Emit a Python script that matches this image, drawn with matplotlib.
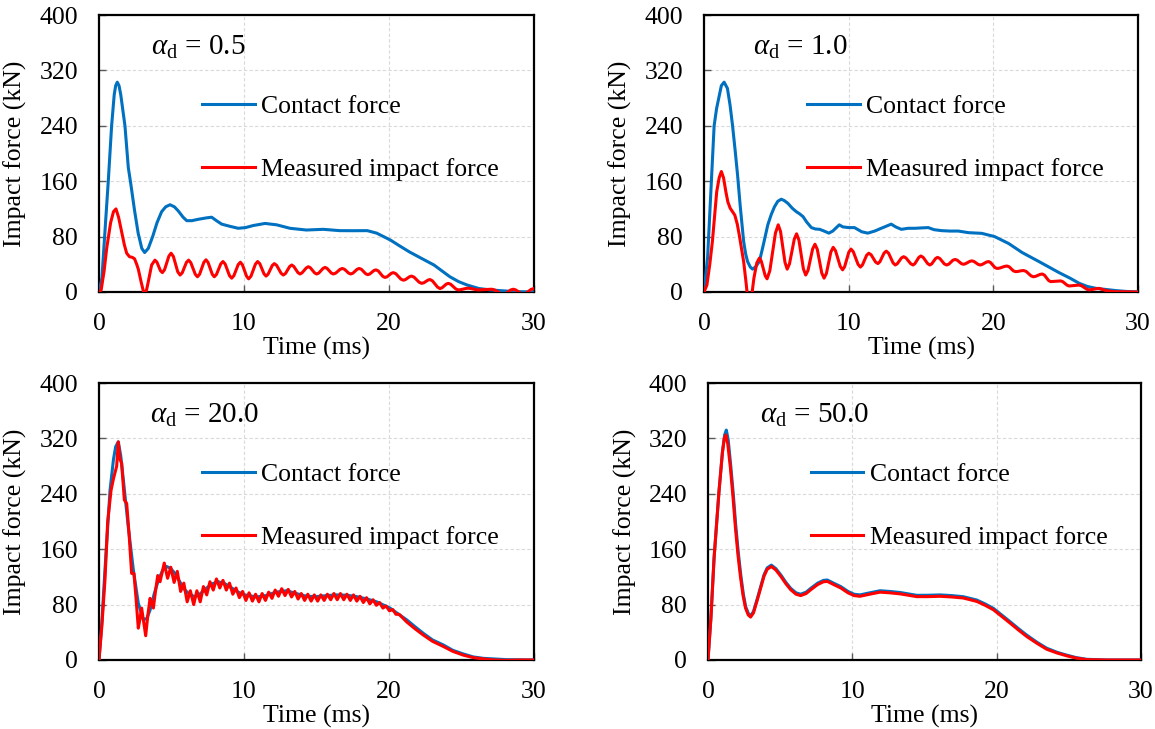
import matplotlib
matplotlib.use("Agg")
import matplotlib.pyplot as plt
from matplotlib.lines import Line2D

plt.rcParams['font.family'] = ['Liberation Serif', 'DejaVu Serif']
plt.rcParams['mathtext.fontset'] = 'custom'
plt.rcParams['mathtext.rm'] = 'Liberation Serif'
plt.rcParams['mathtext.it'] = 'Liberation Serif:italic'

# ---------------- data ----------------
x_ticks = [0, 10, 20, 30]
y_ticks = [0, 80, 160, 240, 320, 400]
series_labels = ["Contact force", "Measured impact force"]
panel_labels = ["0.5", "1.0", "20.0", "50.0"]

# Panel 1 (alpha_d = 0.5)
p1_contact_t = [0, 0.2, 0.45, 0.64, 0.87, 1.05, 1.15, 1.26, 1.38, 1.5, 1.79, 2.02, 2.2, 2.45, 2.7, 2.95,
                3.15, 3.4, 3.7, 4.0, 4.32, 4.6, 4.9, 5.2, 5.47, 5.8, 6.05, 6.4, 6.85, 7.4, 7.77, 8.1,
                8.46, 9.0, 9.6, 10.1, 10.64, 11.45, 12.25, 13.17, 14.3, 15.47, 16.6, 17.5, 18.5, 19.15,
                20.1, 20.7, 21.4, 22.2, 23.1, 24.2, 24.8, 25.4, 26.2, 27.0, 28.0, 28.8, 30]
p1_contact = [0, 20, 100, 160, 240, 285, 298, 303, 298, 285, 240, 180, 155, 118, 85, 63,
              57, 63, 80, 100, 116, 123, 126, 123, 117, 108, 103, 103, 105, 107, 108, 103,
              98, 95, 92, 93, 96, 99, 97, 92, 89.5, 90.5, 88.6, 88.5, 88.6, 85,
              75, 67, 58, 49, 39, 22, 15, 10, 5, 3, 1.5, 0.5, 0]
p1_measured_t = [0, 0.15, 0.35, 0.53, 0.8, 1.0, 1.17, 1.35, 1.56, 1.75, 1.91, 2.1, 2.3, 2.45, 2.6, 2.71,
                 2.9, 3.05, 3.15, 3.28, 3.4, 3.63, 3.86,
                 3.99, 4.24, 4.37, 4.52, 4.82, 4.97, 5.13, 5.43, 5.59, 5.74, 6.03, 6.18, 6.33, 6.64,
                 6.79, 6.94, 7.23, 7.38, 7.52, 7.81, 7.95, 8.1, 8.4, 8.55, 8.7, 9.0, 9.15, 9.3, 9.6,
                 9.75, 9.89, 10.18, 10.32, 10.48, 10.79, 10.94, 11.09, 11.38, 11.52, 11.66, 11.95,
                 12.09, 12.25, 12.56, 12.71, 12.86, 13.15, 13.29, 13.43, 13.72, 13.86, 14.0, 14.3,
                 14.44, 14.58, 14.87, 15.01, 15.16, 15.45, 15.59, 15.73, 16.02, 16.16, 16.32, 16.63,
                 16.78, 16.93, 17.22, 17.36, 17.51, 17.8, 17.95, 18.1, 18.39, 18.53, 18.67, 18.96,
                 19.1, 19.26, 19.57, 19.72, 19.87, 20.16, 20.3, 20.47, 20.82, 20.99, 21.13, 21.42,
                 21.56, 21.73, 22.08, 22.25, 22.4, 22.69, 22.83, 23.0, 23.35, 23.52, 23.66, 23.95,
                 24.09, 24.26, 24.61, 24.78, 24.95, 25.3, 25.47, 25.64, 25.99, 26.16, 27.08, 27.28,
                 27.69, 27.89, 28.06, 28.4, 28.57, 28.74, 29.09, 29.26, 29.45, 29.8, 30]
p1_measured = [0, 3, 30, 63, 100, 116, 120, 108, 87, 68, 56, 51, 50, 48, 40, 33,
               15, 2, -2, 3, 15, 39, 46,
               43.3, 30.7, 28, 32.2, 51.8, 56, 51.3, 29.2, 24.5, 27.7, 42.8, 46, 42.4, 25.6,
               22, 25.7, 42.8, 46.5, 42.8, 25.7, 22, 25.3, 40.7, 44, 40.4, 23.6, 20, 23.5, 39.6,
               43, 39.4, 22.6, 19, 22.8, 40.3, 44, 40.9, 26.2, 23, 25.7, 38.3,
               41, 38.5, 27, 24.5, 26.7, 36.8, 39, 37, 28, 26, 27.6, 34.9,
               36.5, 34.9, 27.6, 26, 27.4, 34.1, 35.5, 34.1, 27.4, 26, 27.2, 32.8,
               34, 32.8, 27.2, 26, 27.2, 32.8, 34, 32.7, 26.4, 25, 26, 31,
               32, 30.4, 22.6, 21, 22, 27, 28, 26.4, 18.6, 17, 17.9, 22.1,
               23, 21.4, 14.1, 12.5, 13.3, 17.2, 18, 16, 7, 5, 6.1, 11.4,
               12.5, 11.1, 4.4, 3, 3.4, 5.1, 5.5, 5.1, 3.4, 3, 4, 3,
               -2, -3, -2, 3, 4, 3, -2, -3, -1.8, 3.8, 5]

# Panel 2 (alpha_d = 1.0)
p2_contact_t = [0, 0.25, 0.51, 0.7, 0.87, 1.04, 1.2, 1.39, 1.62, 1.8, 1.97, 2.15, 2.32, 2.5, 2.74, 2.88,
                3.01, 3.2, 3.36, 3.55, 3.83, 4.1, 4.41, 4.65, 4.87, 5.1, 5.34, 5.55, 5.8, 6.1, 6.38,
                6.6, 6.84, 7.1, 7.42, 7.7, 8.0, 8.3, 8.63, 8.9, 9.35, 9.6, 10.0, 10.4, 10.9, 11.32,
                11.8, 12.25, 12.6, 12.94, 13.25, 13.64, 14.1, 14.57, 15.0, 15.5, 15.9, 16.42, 17.0,
                17.58, 18.28, 19.2, 20.09, 21.06, 21.99, 23.15, 24.54, 25.3, 25.94, 26.5, 27.09,
                28.48, 29.2, 30]
p2_contact = [0, 50, 160, 240, 265, 282, 298, 303, 294, 270, 241, 205, 169, 125, 73, 55,
              44, 36, 33, 36, 44, 68, 97, 112, 123, 131, 134, 132, 128, 121, 116,
              113, 109, 101, 93, 91, 90.5, 88, 85, 88, 97, 94, 93, 93, 87, 85,
              88, 92, 95, 98, 94, 90.5, 92, 92, 92.5, 93, 90, 88.6, 88,
              88, 85.7, 84.7, 80, 70, 57, 44, 28, 20, 12.5, 8, 5.3,
              2, 0.8, 0]
p2_measured_t = [0, 0.2, 0.4, 0.58, 0.88, 1.05, 1.2, 1.35, 1.51, 1.65, 1.81, 2.0, 2.13, 2.3, 2.44, 2.6,
                 2.74, 2.9, 3.0, 3.15, 3.3, 3.45, 3.65, 3.83,
                 3.96, 4.23, 4.36, 4.55, 4.94, 5.13, 5.29, 5.6, 5.75, 5.91, 6.24, 6.4, 6.56, 6.87,
                 7.03, 7.19, 7.51, 7.67, 7.83, 8.14, 8.3, 8.46, 8.77, 8.93, 9.09, 9.42, 9.58, 9.72,
                 10.01, 10.16, 10.32, 10.65, 10.81, 10.95, 11.24, 11.39, 11.55, 11.86, 12.02, 12.16,
                 12.45, 12.6, 12.76, 13.07, 13.22, 13.36, 13.65, 13.8, 13.96, 14.29, 14.45, 14.58,
                 14.85, 14.99, 15.15, 15.46, 15.61, 15.74, 16.01, 16.14, 16.3, 16.61, 16.77, 16.92,
                 17.2, 17.35, 17.5, 17.79, 17.93, 18.07, 18.37, 18.51, 18.66, 18.95, 19.09, 19.23,
                 19.52, 19.67, 19.81, 20.1, 20.25, 20.43, 20.78, 20.95, 21.1, 21.38, 21.53, 21.67,
                 21.96, 22.1, 22.27, 22.6, 22.76, 22.92, 23.23, 23.38, 23.53, 23.82, 23.96, 24.66,
                 24.8, 25.1, 25.24, 25.93, 26.1, 26.46, 26.63, 27.3, 27.8, 28.3, 29.0, 30]
p2_measured = [0, 10, 40, 73, 145, 165, 174, 165, 145, 130, 121, 115, 111, 98, 82, 62,
               44, 15, -5, -12, -5, 20, 42, 49,
               44.5, 23.5, 19, 30.7, 85.3, 97, 87.4, 42.6, 33, 40.7, 76.3, 84, 75.1, 33.4,
               24.5, 31.2, 62.3, 69, 61.7, 27.4, 20, 26.7, 57.8, 64.5, 59.6, 36.9, 32, 36.5,
               57.5, 62, 58.1, 39.9, 36, 39, 53, 56, 53.8, 43.3, 41, 43.7,
               56.3, 59, 56, 42, 39, 40.8, 49.2, 51, 49.2, 40.8, 39, 41,
               50, 52, 50, 41, 39, 40.6, 48.4, 50, 48.4, 40.6, 39, 40.2,
               45.8, 47, 46, 41, 40, 40.8, 44.2, 45, 44.1, 39.9, 39, 39.8,
               43.2, 44, 42.5, 35.5, 34, 34.5, 37, 37.5, 36.3, 30.6, 29.4, 29.6,
               30.8, 31, 29.7, 23.4, 22, 22.6, 25.4, 26, 24.4, 16.6, 15, 16,
               14.9, 9.8, 8.7, 10, 9, 4, 3, 5.3, 2, 0.5, 0.3, 0]

# Panel 3 (alpha_d = 20.0)
p3_contact_t = [0, 0.2, 0.41, 0.76, 1.0, 1.15, 1.33, 1.5, 1.68, 2.02, 2.37, 2.71, 3.06, 3.3, 3.52, 3.8,
                4.09, 4.4, 4.67, 4.95, 5.24, 5.6, 5.93, 6.3, 6.62, 7.0, 7.43, 7.8, 8.23, 8.7, 9.15,
                9.6, 10.07, 10.87, 11.5, 12.2, 12.94, 13.6, 14.32, 15.0, 15.7, 16.39, 17.1, 17.77,
                18.5, 19.15, 20.07, 20.6, 21.22, 21.8, 22.37, 23.0, 23.75, 24.4, 25.13, 25.8, 26.51,
                28.1, 30]
p3_contact = [0, 55, 130, 245, 290, 308, 315, 295, 260, 192, 130, 82, 58, 60, 72, 95,
              115, 130, 135, 132, 125, 112, 101, 94, 91.5, 96, 104, 110, 113, 110, 104,
              98, 94, 91, 93, 98, 100, 96, 92, 91.5, 93, 94, 93.5, 91.5,
              88, 84, 75, 67, 58, 48, 38.5, 29, 21.7, 14, 8.7, 4.5, 2.4,
              0.5, 0]
p3_measured_t = [0, 0.2, 0.41, 0.6, 0.83, 1.0, 1.22, 1.33, 1.45, 1.56, 1.75, 1.91, 2.08, 2.25, 2.41,
                 2.55, 2.71, 2.83, 2.94, 3.08, 3.22, 3.37, 3.52, 3.64, 3.75, 3.9, 4.05, 4.21, 4.35,
                 4.5, 4.73, 4.95, 5.18, 5.4, 5.63, 5.85, 6.08, 6.3, 6.53, 6.75, 6.98, 7.2, 7.43,
                 7.65, 7.88, 8.1, 8.33, 8.55, 8.78, 9.0, 9.23, 9.45, 9.68, 9.9, 10.13, 10.35, 10.58,
                 10.8, 11.03, 11.25, 11.48, 11.7, 11.93, 12.15, 12.38, 12.6, 12.83, 13.05, 13.28,
                 13.5, 13.73, 13.95, 14.18, 14.4, 14.63, 14.85, 15.08, 15.3, 15.53, 15.75, 15.98,
                 16.2, 16.43, 16.65, 16.88, 17.1, 17.33, 17.55, 17.78, 18.0, 18.23, 18.45, 18.68,
                 18.9, 19.13, 19.35, 19.58, 19.8, 20.03, 20.25, 20.48, 20.7, 21.22, 21.8, 22.37,
                 23.0, 23.75, 24.4, 25.13, 25.8, 26.51, 27.3, 28.1, 29.0, 30]
p3_measured = [0, 50, 115, 200, 245, 262, 280, 315, 290, 284, 231, 226, 180, 125, 125,
               90, 46, 60, 75, 55, 35, 65, 89, 82, 75, 100, 122, 113, 126,
               140, 118, 134, 112, 128, 99, 111, 84, 100, 80, 100, 84, 106, 94,
               113, 101, 117, 104, 115, 101, 111, 95, 104, 90, 99, 86, 97, 85,
               95, 84, 96, 86, 98, 89, 101, 92, 103, 93, 102, 91,
               99, 88, 96, 86, 95, 85, 94, 85, 94, 86, 95, 87,
               96, 87, 96, 87, 95, 86, 94, 85, 92, 83, 90, 81,
               87, 79, 83, 75, 78, 71, 73, 66, 66, 55, 45, 36,
               27, 19.5, 12.5, 7, 3.5, 1.5, 0, -0.5, 0, 0]

# Panel 4 (alpha_d = 50.0)
p4_contact_t = [0, 0.2, 0.42, 0.76, 1.0, 1.15, 1.27, 1.4, 1.57, 1.75, 1.92, 2.1, 2.27, 2.45, 2.61, 2.8,
                2.96, 3.15, 3.42, 3.65, 3.88, 4.1, 4.39, 4.7, 5.04, 5.4, 5.73, 6.1, 6.42, 6.8, 7.12,
                7.6, 8.0, 8.27, 8.7, 9.2, 9.7, 10.12, 10.53, 11.2, 11.92, 12.6, 13.31, 14.46, 15.2,
                16.08, 16.9, 17.69, 18.62, 19.2, 19.77, 20.35, 20.93, 21.5, 22.08, 22.8, 23.47, 24.2,
                24.86, 25.5, 26.24, 27.63, 30]
p4_contact = [0, 60, 147, 243, 300, 325, 332, 318, 282, 240, 195, 155, 123, 95, 77, 67,
              64, 70, 89, 106, 123, 133, 137, 132, 123, 112, 103.5, 97, 95, 98, 103.5,
              111, 115, 115.5, 111, 106, 99, 95, 94, 97, 100, 99, 97.5, 93.4, 93.5,
              94, 93, 91.4, 86.6, 81, 74.6, 65, 55.3, 45.5, 36, 25.5, 17, 11,
              7, 3.5, 1, 0, 0]
p4_measured_t = [0, 0.2, 0.42, 0.76, 1.0, 1.13, 1.24, 1.37, 1.55, 1.73, 1.9, 2.08, 2.25, 2.43, 2.6,
                 2.79, 2.95, 3.15, 3.42, 3.65, 3.88, 4.1, 4.39, 4.7, 5.04, 5.4, 5.73, 6.1, 6.42,
                 6.8, 7.12, 7.6, 8.0, 8.27, 8.7, 9.2, 9.7, 10.12, 10.53, 11.2, 11.92, 12.6, 13.31,
                 14.46, 15.2, 16.08, 16.9, 17.69, 18.62, 19.2, 19.77, 20.35, 20.93, 21.5, 22.08,
                 22.8, 23.47, 24.2, 24.86, 25.5, 26.24, 27.63, 30]
p4_measured = [0, 60, 147, 243, 300, 320, 325, 312, 278, 236, 191, 151, 120, 93, 75,
               65, 62, 68, 87, 104, 121, 131, 135, 130, 121, 110, 101.5, 95, 93,
               96, 101.5, 109, 113, 113.5, 109, 104, 97, 93, 92, 95, 98, 97, 95.5,
               91.5, 91.5, 92, 91, 89.5, 84.6, 79, 72.6, 63, 53.3, 43.5, 34,
               24, 15.5, 10, 6, 2.8, 0.5, 0, 0]

panels = [
    (p1_contact_t, p1_contact, p1_measured_t, p1_measured),
    (p2_contact_t, p2_contact, p2_measured_t, p2_measured),
    (p3_contact_t, p3_contact, p3_measured_t, p3_measured),
    (p4_contact_t, p4_contact, p4_measured_t, p4_measured),
]

# ---------------- layout ----------------
W, H = 1155, 729
fig = plt.figure(figsize=(W / 100, H / 100), dpi=100)
rects = [
    (99, 15, 435, 277),
    (704, 15, 434, 277),
    (99, 383, 435, 277),
    (708, 383, 433, 277),
]
label_x = [0.12, 0.113, 0.117, 0.12]

BLUE = '#0070C0'
RED = '#FF0000'
FS = 18.5

for i, (rect, data) in enumerate(zip(rects, panels)):
    x0, y0, w, h = rect
    ax = fig.add_axes([x0 / W, 1 - (y0 + h) / H, w / W, h / H])
    ct, cv, mt, mv = data
    ax.plot(ct, cv, color=BLUE, lw=2.2, solid_joinstyle='round', zorder=3)
    ax.plot(mt, mv, color=RED, lw=2.2, solid_joinstyle='round', zorder=4)
    ax.set_xlim(0, 30)
    ax.set_ylim(0, 400)
    ax.set_xticks(x_ticks)
    ax.set_yticks(y_ticks)
    ax.grid(True, color='#d9d9d9', linestyle=(0, (3, 2)), linewidth=0.8, zorder=0)
    ax.tick_params(direction='in', length=5, width=1, color='#595959', labelsize=FS)
    ax.tick_params(axis='x', pad=15)
    ax.tick_params(axis='y', pad=15)
    for sp in ax.spines.values():
        sp.set_linewidth(1.6)
        sp.set_color('black')
    ax.set_xlabel('Time (ms)', fontsize=FS)
    ax.xaxis.set_label_coords(0.5, -0.163)
    ax.set_ylabel('Impact force (kN)', fontsize=FS)
    ax.yaxis.set_label_coords(-0.165, 0.5)
    ax.text(label_x[i], 0.856, r'$\alpha_\mathrm{d}$ = ' + panel_labels[i],
            transform=ax.transAxes, fontsize=21, va='baseline', ha='left')
    handles = [Line2D([], [], color=BLUE, lw=2.2), Line2D([], [], color=RED, lw=2.2)]
    ax.legend(handles, series_labels, loc='upper left', bbox_to_anchor=(0.237, 0.71),
              frameon=False, borderpad=0, borderaxespad=0, handlelength=2.05,
              handletextpad=0.25, labelspacing=1.56, fontsize=FS)

fig.savefig('out.png', dpi=100)
